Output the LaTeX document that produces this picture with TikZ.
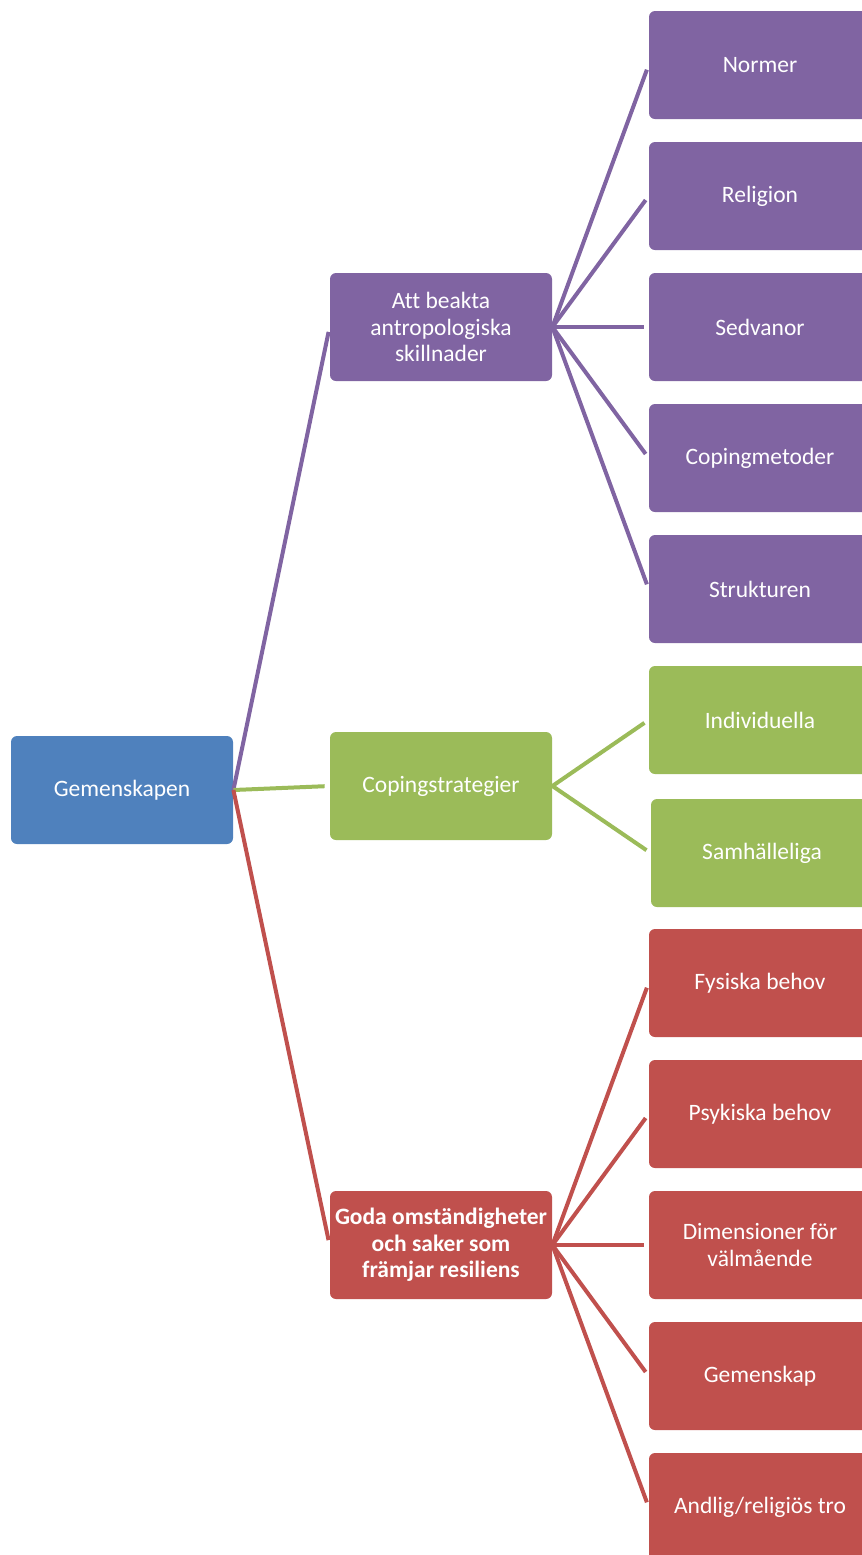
\documentclass[tikz,border=0pt]{standalone}
\usepackage{fontspec}
\setmainfont{Carlito}[Ligatures=NoCommon]

\definecolor{rootblue}{HTML}{4F81BD}
\definecolor{antpurple}{HTML}{8064A2}
\definecolor{copgreen}{HTML}{9BBB59}
\definecolor{godared}{HTML}{C0504D}

\tikzset{%
  every node/.style={
    inner sep=1pt,
    text=white,
    align=center,
    font=\fontsize{11.75}{13.3}\selectfont
  },
  box/.style={
    rounded corners=3pt,
    minimum width=111pt,
    minimum height=54pt
  },
  branch/.style={
    line width=2pt,
    shorten >=2.5pt
  }
}

\begin{document}
\begin{tikzpicture}[x=0.5pt, y=-0.5pt]
        \useasboundingbox (0,0) rectangle (862,1555);
        \clip (0,0) rectangle (862,1555);
        \node[box, fill=rootblue] at (122,790) (0) {Gemenskapen};
        \node[box, fill=antpurple] at (441,327) (1) {Att beakta\\antropologiska\\skillnader};
        \node[box, fill=copgreen] at (441,786) (2) {Copingstrategier};
        \node[box, fill=godared, font=\fontsize{11.75}{13.3}\selectfont\bfseries] at (441,1245) (3) {Goda omständigheter\\och saker som\\främjar resiliens};
        \node[box, fill=antpurple] at (760,65) (11) {Normer};
        \node[box, fill=antpurple] at (760,196) (12) {Religion};
        \node[box, fill=antpurple] at (760,327) (13) {Sedvanor};
        \node[box, fill=antpurple] at (760,458) (14) {Copingmetoder};
        \node[box, fill=antpurple] at (760,589) (15) {Strukturen};
        \node[box, fill=copgreen] at (760,720) (21) {Individuella};
        \node[box, fill=copgreen] at (762,853) (22) {Samhälleliga};
        \node[box, fill=godared] at (760,983) (31) {Fysiska behov};
        \node[box, fill=godared] at (760,1114) (32) {Psykiska behov};
        \node[box, fill=godared] at (760,1245) (33) {Dimensioner för\\välmående};
        \node[box, fill=godared] at (760,1376) (34) {Gemenskap};
        \node[box, fill=godared] at (760,1507) (35) {Andlig/religiös tro};
        \draw[branch, antpurple] (0.east) -- (1.west);
        \draw[branch, copgreen] (0.east) -- (2.west);
        \draw[branch, godared] (0.east) -- (3.west);
        \draw[branch, antpurple] (1.east) -- (11.west);
        \draw[branch, antpurple] (1.east) -- (12.west);
        \draw[branch, antpurple] (1.east) -- (13.west);
        \draw[branch, antpurple] (1.east) -- (14.west);
        \draw[branch, antpurple] (1.east) -- (15.west);
        \draw[branch, copgreen] (2.east) -- (21.west);
        \draw[branch, copgreen] (2.east) -- (22.west);
        \draw[branch, godared] (3.east) -- (31.west);
        \draw[branch, godared] (3.east) -- (32.west);
        \draw[branch, godared] (3.east) -- (33.west);
        \draw[branch, godared] (3.east) -- (34.west);
        \draw[branch, godared] (3.east) -- (35.west);
      \end{tikzpicture}
\end{document}
